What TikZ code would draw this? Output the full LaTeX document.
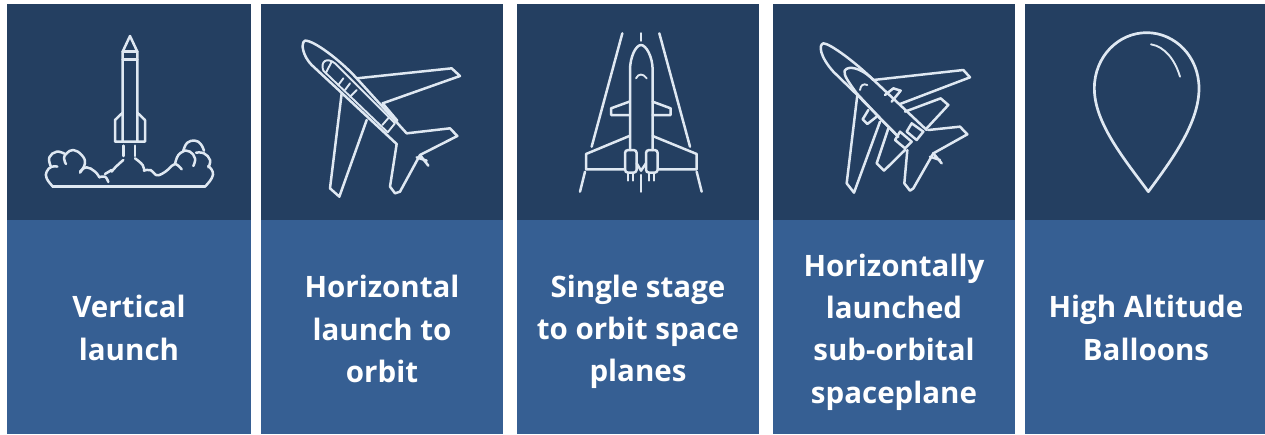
\documentclass[tikz,border=0pt]{standalone}
\usepackage{fontspec}
\setmainfont{Open Sans}
\definecolor{paneldark}{HTML}{243F61}
\definecolor{panellight}{HTML}{365F93}
\definecolor{iconline}{HTML}{DFE8F2}
\tikzset{
  darkpanel/.style={fill=paneldark,draw=none},
  lightpanel/.style={fill=panellight,draw=none},
  icon/.style={draw=iconline,line width=2.5pt,line join=round,line cap=round},
  thinicon/.style={icon,line width=1.9pt},
  caption/.style={text=white,font=\fontsize{29.5}{42.3}\selectfont\bfseries,align=center,inner sep=0pt},
  zoomed/.style={x=0.33333pt,y=-0.33333pt,xshift=#1}
}
\newcommand{\puffline}[1]{\draw[icon] plot[smooth,tension=0.75] coordinates {#1};}
\begin{document}
\begin{tikzpicture}[x=1pt,y=-1pt]
\useasboundingbox (0,0) rectangle (1265,434);
\fill[white] (0,0) rectangle (1265,434);
% panels
\foreach \xa/\xb in {7/251,261/503,517/759,773/1015,1025/1265}{
  \path[darkpanel] (\xa,4) rectangle (\xb,220);
  \path[lightpanel] (\xa,220) rectangle (\xb,434);
}
% captions
\node[caption] (c1) at (129,328) {Vertical\\launch};
\node[caption] (c2) at (382,329) {Horizontal\\launch to\\orbit};
\node[caption] (c3) at (638,332) {Single stage\\to orbit space\\planes};
\node[caption] (c4) at (894,332) {Horizontally\\launched\\sub-orbital\\spaceplane};
\node[caption] (c5) at (1146,328) {High Altitude\\Balloons};
% rocket
\begin{scope}[zoomed=0pt]
\draw[icon] (368,425) -- (368,155) -- (390,108) -- (412,155) -- (412,425);
\draw[icon] (368,155) -- (412,155) (368,178) -- (412,178);
\draw[icon] (368,338) -- (345,360) -- (345,425) -- (435,425) -- (435,360) -- (412,338);
\draw[icon] (370,437) -- (370,468) (405,437) -- (405,468);
\draw[icon] (157,560) -- (615,560);
\end{scope}
% left cloud
\begin{scope}[zoomed=40pt,yshift=-130pt]
\puffline{(37,168) (20,145) (20,125) (35,110) (52,110)}
\puffline{(32,108) (28,82) (50,65) (75,72)}
\puffline{(78,102) (72,85) (80,70) (100,60) (125,75) (135,100) (120,128)}
\puffline{(120,125) (140,112) (165,125) (178,142)}
\puffline{(178,142) (195,140) (205,156)}
\puffline{(195,132) (215,120)}
\puffline{(215,125) (228,110) (250,90)}
\end{scope}
% right cloud
\begin{scope}[zoomed=130pt,yshift=-130pt]
\puffline{(225,170) (245,145) (248,125) (235,108)}
\puffline{(190,108) (195,85) (180,65) (160,62)}
\puffline{(235,112) (240,90) (222,70) (198,68)}
\puffline{(160,62) (172,38) (195,32) (212,42) (222,62)}
\puffline{(135,102) (145,75) (165,62)}
\puffline{(155,118) (135,102) (115,118) (95,132) (78,135) (62,120) (42,122)}
\puffline{(42,122) (38,105) (15,85)}
\end{scope}
% horizontal-launch plane
\begin{scope}[zoomed=260pt]
\draw[icon] (440,400) -- (290,235) .. controls (240,180) and (160,120) .. (135,122)
  .. controls (120,130) and (130,170) .. (155,195) -- (410,432);
\draw[icon] (290,235) -- (575,205) -- (600,228) -- (368,310) -- (412,362);
\draw[icon] (245,280) -- (210,565) -- (238,590) -- (320,360);
\draw[icon] (440,400) -- (570,385) -- (592,408) -- (480,465) -- (420,575) -- (405,580) -- (390,560) -- (410,432);
\draw[icon] (480,465) -- (505,497) (470,472) -- (500,482);
\draw[thinicon] (405,370) -- (225,190) .. controls (200,170) and (180,185) .. (190,212) -- (383,397) -- (405,370);
\draw[thinicon] (215,185) -- (197,220) (250,235) -- (235,255) (270,250) -- (255,270) (290,270) -- (270,290) (367,375) -- (387,352);
\end{scope}
% single-stage plane
\begin{scope}[zoomed=510pt]
\draw[icon] (337,100) -- (245,440) (225,515) -- (210,575) (448,100) -- (540,440) (560,515) -- (575,575);
\draw[icon] (393,100) -- (393,122) (393,525) -- (393,575);
\draw[icon] (360,450) -- (360,210) .. controls (360,170) and (378,135) .. (393,135) .. controls (408,135) and (428,170) .. (428,210) -- (428,450);
\draw[thinicon] (378,235) .. controls (385,220) and (400,220) .. (410,235);
\draw[icon] (358,305) -- (303,325) -- (303,345) -- (358,345) (428,305) -- (482,325) -- (482,345) -- (428,345);
\draw[icon] (358,408) -- (228,462) -- (228,508) -- (345,508) (428,408) -- (560,462) -- (560,508) -- (445,508);
\draw[icon,rounded corners=3pt] (345,450) rectangle (380,518) (408,450) rectangle (443,518);
\draw[icon] (380,490) -- (393,512) -- (408,490);
\draw[thinicon] (355,520) -- (355,542) (370,520) -- (370,542) (418,520) -- (418,542) (433,520) -- (433,542);
\end{scope}
% sub-orbital plane
\begin{scope}[zoomed=770pt]
\draw[icon] (310,240) .. controls (260,190) and (180,130) .. (160,130) .. controls (145,135) and (150,170) .. (190,215) -- (262,285) -- (385,410);
\draw[icon] (470,390) -- (300,230) .. controls (270,205) and (235,195) .. (224,212) .. controls (220,225) and (235,245) .. (260,280) -- (330,355) -- (385,410);
\draw[icon] (310,240) -- (580,210) -- (600,232) -- (390,312);
\draw[icon] (262,285) -- (230,550) -- (252,578) -- (330,365);
\draw[icon] (405,335) -- (512,295) -- (535,315) -- (470,385);
\draw[icon] (355,385) -- (320,490) -- (342,512) -- (405,450);
\draw[icon] (345,285) -- (370,265) -- (392,272) -- (365,305);
\draw[icon] (295,330) -- (278,358) -- (292,372) -- (320,350);
\draw[icon] (475,390) -- (570,380) -- (592,403) -- (490,460) -- (430,565) -- (420,572) -- (403,550) -- (412,450);
\draw[icon] (490,460) -- (515,490) (480,470) -- (510,480);
\draw[thinicon] (270,270) .. controls (272,255) and (280,250) .. (292,255);
\draw[icon] (425,370) -- (460,395) -- (440,420) -- (410,395) -- cycle;
\draw[icon] (390,395) -- (425,425) -- (405,445) -- (375,420) -- cycle;
\end{scope}
% balloon
\begin{scope}[zoomed=1015pt]
\draw[icon,line width=2.7pt] (400,575) .. controls (330,480) and (238,370) .. (238,265) .. controls (238,170) and (310,98) .. (395,98) .. controls (480,98) and (552,170) .. (552,265) .. controls (552,370) and (470,480) .. (400,575) -- cycle;
\draw[thinicon] (408,133) .. controls (450,140) and (480,180) .. (495,230);
\end{scope}
\end{tikzpicture}
\end{document}
